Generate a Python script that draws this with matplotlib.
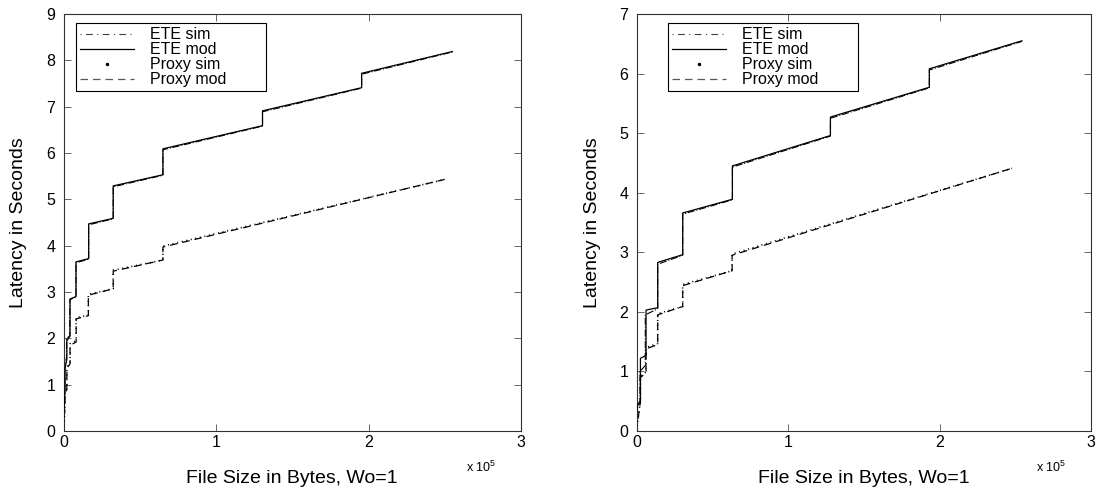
import matplotlib
matplotlib.use("Agg")
import matplotlib.pyplot as plt
from matplotlib.lines import Line2D

plt.rcParams["font.family"] = ["Liberation Sans", "DejaVu Sans"]
plt.rcParams["mathtext.fontset"] = "custom"
plt.rcParams["mathtext.rm"] = "Liberation Sans"
plt.rcParams["mathtext.it"] = "Liberation Sans"

# ---- left panel (latency in s vs file size in bytes) ----
left_ete_mod_x = [0, 1000, 1000, 2200, 2200, 4300, 4300, 8200, 8200, 16500, 16500,
                  32600, 32600, 65200, 65200, 130500, 130500, 195500, 195500, 255000]
left_ete_mod_y = [0.30, 0.90, 1.35, 1.55, 1.95, 2.05, 2.85, 2.90, 3.65, 3.72, 4.47,
                  4.59, 5.29, 5.53, 6.09, 6.59, 6.91, 7.41, 7.72, 8.19]
left_ete_sim_x = [0, 900, 900, 2000, 2000, 4100, 4100, 8200, 8200, 16500, 16500,
                  32600, 32600, 65200, 65200, 130500, 130500, 195500, 195500, 255000]
left_ete_sim_y = [0.25, 0.95, 1.40, 1.60, 2.00, 2.05, 2.83, 2.90, 3.63, 3.71, 4.45,
                  4.58, 5.27, 5.52, 6.07, 6.58, 6.89, 7.40, 7.70, 8.18]
left_proxy_mod_x = [0, 1000, 1000, 2200, 2200, 4300, 4300, 8300, 8300, 16300, 16300,
                    32600, 32600, 65200, 65200, 250000]
left_proxy_mod_y = [0.05, 0.55, 0.80, 0.90, 1.35, 1.45, 1.85, 1.92, 2.42, 2.49, 2.93,
                    3.07, 3.45, 3.69, 3.97, 5.43]
left_proxy_sim_x = [0, 1000, 1000, 2200, 2200, 4300, 4300, 8300, 8300, 16300, 16300,
                    32600, 32600, 65200, 65200, 250000]
left_proxy_sim_y = [0.00, 0.55, 0.85, 0.92, 1.38, 1.47, 1.88, 1.95, 2.45, 2.50, 2.95,
                    3.07, 3.47, 3.69, 3.99, 5.43]

# ---- right panel ----
right_ete_mod_x = [0, 800, 2600, 2600, 6300, 6300, 14000, 14000, 30500, 30500,
                   63300, 63300, 128000, 128000, 193300, 193300, 254400]
right_ete_mod_y = [0.30, 0.44, 0.47, 1.22, 1.27, 2.03, 2.07, 2.83, 2.96, 3.66,
                   3.89, 4.45, 4.96, 5.27, 5.77, 6.08, 6.55]
right_ete_sim_x = [0, 800, 2300, 2300, 5800, 5800, 14000, 14000, 30500, 30500,
                   63300, 63300, 128000, 128000, 193300, 193300, 254400]
right_ete_sim_y = [0.25, 0.45, 0.50, 1.00, 1.10, 1.95, 2.05, 2.80, 2.95, 3.64,
                   3.88, 4.43, 4.95, 5.25, 5.76, 6.06, 6.54]
right_proxy_mod_x = [0, 2600, 2600, 6300, 6300, 14000, 14000, 30500, 30500,
                     63100, 63100, 247800]
right_proxy_mod_y = [0.00, 0.50, 0.90, 0.97, 1.38, 1.45, 1.95, 2.09, 2.44,
                     2.69, 2.95, 4.41]
right_proxy_sim_x = [0, 2600, 2600, 6300, 6300, 14000, 14000, 30500, 30500,
                     63100, 63100, 247800]
right_proxy_sim_y = [0.00, 0.52, 0.92, 0.99, 1.40, 1.47, 1.97, 2.09, 2.46,
                     2.69, 2.97, 4.41]

labels = ["ETE sim", "ETE mod", "Proxy sim", "Proxy mod"]
x_ticks = [0, 100000, 200000, 300000]
x_ticklabels = ["0", "1", "2", "3"]


def draw(ax, ete_sim, ete_mod, px_sim, px_mod, ymax, leg_x, ylab_x):
    ax.plot(*ete_sim, color="black", lw=0.8, ls="-.", zorder=2)
    ax.plot(*ete_mod, color="black", lw=0.9, ls="-", zorder=3)
    ax.plot(*px_mod, color="black", lw=0.9, ls=(0, (6, 4)), zorder=2)
    ax.plot(*px_sim, color="black", lw=1.2, ls=(0, (0.6, 2.2)), zorder=3)

    ax.set_xlim(0, 300000)
    ax.set_ylim(0, ymax)
    ax.set_xticks(x_ticks)
    ax.set_xticklabels(x_ticklabels)
    ax.set_yticks(range(ymax + 1))
    ax.tick_params(direction="in", length=5, width=0.6, color="0.3",
                   top=True, right=True, labelsize=11.5)
    ax.tick_params(axis="x", pad=3)
    ax.tick_params(axis="y", pad=6)
    for s in ax.spines.values():
        s.set_linewidth(0.8)
        s.set_color("0.2")

    ax.set_xlabel("File Size in Bytes, Wo=1", fontsize=14)
    ax.xaxis.set_label_coords(0.5, -0.093)
    ax.set_ylabel("Latency in Seconds", fontsize=14)
    ax.yaxis.set_label_coords(ylab_x, 0.5)
    ax.text(0.945, -0.098, r"x 10$^5$", transform=ax.transAxes,
            ha="right", va="baseline", fontsize=9)

    handles = [
        Line2D([], [], color="0.25", lw=0.8, ls=(0, (1, 4, 6, 4))),
        Line2D([], [], color="black", lw=0.9, ls="-"),
        Line2D([], [], color="black", ls="none", marker=".", markersize=3),
        Line2D([], [], color="0.35", lw=0.9, ls=(0, (6, 4))),
    ]
    # trailing spaces stretch the box to the right like the original legend
    padded = [t + " " * 8 for t in labels]
    leg = ax.legend(handles, padded, loc="upper left", bbox_to_anchor=(leg_x, 0.978),
                    fontsize=11.5, frameon=True, fancybox=False, framealpha=1,
                    edgecolor="black", borderpad=0.25, labelspacing=0.0,
                    handlelength=3.4, handletextpad=1.0, borderaxespad=0)
    leg.get_frame().set_linewidth(0.8)


fig = plt.figure(figsize=(10.96, 4.92), dpi=100)
W, H = 1096, 492
ax1 = fig.add_axes([63.5 / W, 1 - 431 / H, 457.5 / W, 417 / H])
ax2 = fig.add_axes([636.5 / W, 1 - 431 / H, 454.5 / W, 417 / H])

draw(ax1, (left_ete_sim_x, left_ete_sim_y), (left_ete_mod_x, left_ete_mod_y),
     (left_proxy_sim_x, left_proxy_sim_y), (left_proxy_mod_x, left_proxy_mod_y),
     9, 0.027, -0.08)
draw(ax2, (right_ete_sim_x, right_ete_sim_y), (right_ete_mod_x, right_ete_mod_y),
     (right_proxy_sim_x, right_proxy_sim_y), (right_proxy_mod_x, right_proxy_mod_y),
     7, 0.069, -0.078)

fig.savefig("out.png", dpi=100)
